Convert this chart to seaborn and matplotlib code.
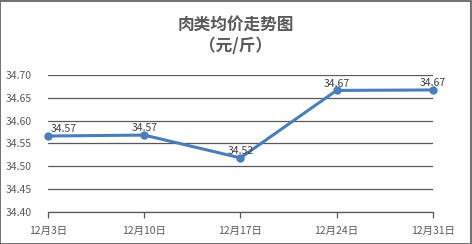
import matplotlib
matplotlib.use("Agg")
import matplotlib.pyplot as plt
import seaborn as sns
import pandas as pd
from matplotlib.patches import Rectangle

dates = ["12月3日", "12月10日", "12月17日", "12月24日", "12月31日"]
prices = [34.566, 34.568, 34.518, 34.666, 34.667]
yticks = [34.40, 34.45, 34.50, 34.55, 34.60, 34.65, 34.70]

sns.set_theme(style="white")
plt.rcParams["font.family"] = ["Noto Sans CJK SC", "DejaVu Sans"]

df = pd.DataFrame({"date": dates, "price": prices})

fig = plt.figure(figsize=(4.72, 2.44), dpi=100)
ax = fig.add_axes([0.1017, 0.1324, 0.8153, 0.5606])

for y in yticks:
    ax.axhline(y, color="#595959", lw=0.9, zorder=1)

sns.lineplot(data=df, x="date", y="price", ax=ax, color="#4A7EBB", lw=2.2,
             marker="o", markersize=6, markeredgewidth=0, zorder=3, sort=False)
for ln in ax.lines:
    if ln.get_color() == "#4A7EBB" or len(ln.get_xdata()) == len(dates):
        ln.set_clip_on(False)

for i, v in enumerate(prices):
    if i == 0:
        ax.text(i + 0.03, v + 0.004, f"{v:.2f}", ha="left", va="bottom",
                fontsize=7.5, color="#404040", zorder=4)
    else:
        ax.text(i, v + 0.004, f"{v:.2f}", ha="center", va="bottom",
                fontsize=7.5, color="#404040", zorder=4)

ax.set_xlim(0, len(dates) - 1)
ax.set_ylim(34.40, 34.70)
ax.set_yticks(yticks)
ax.set_yticklabels([f"{y:.2f}" for y in yticks], fontsize=7.5, color="#595959")
ax.set_xticks(range(len(dates)))
ax.set_xticklabels(dates, fontsize=7.5, color="#595959")
ax.set_xlabel("")
ax.set_ylabel("")
for s in ["top", "right", "left"]:
    ax.spines[s].set_visible(False)
ax.spines["bottom"].set_color("#595959")
ax.spines["bottom"].set_linewidth(0.9)
ax.tick_params(axis="x", direction="out", length=4, width=0.9, color="#595959", pad=6, bottom=True)
ax.tick_params(axis="y", length=0, pad=12)

fig.text(0.5, 0.9, "肉类均价走势图", ha="center", va="center",
         fontsize=12, color="#595959", fontweight="bold")
fig.text(0.5, 0.81, "（元/斤）", ha="center", va="center",
         fontsize=12, color="#595959", fontweight="bold")

fig.patches.append(Rectangle((0.001, 0.002), 0.997, 0.995, transform=fig.transFigure,
                             fill=False, edgecolor="#595959", lw=1.2))

fig.savefig("out.png", dpi=100, facecolor="white")
